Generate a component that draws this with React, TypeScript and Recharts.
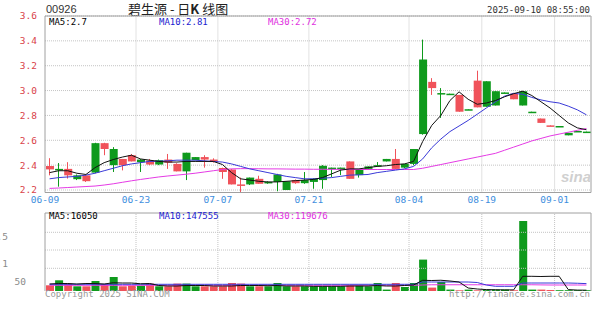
import React from 'react';
import { ComposedChart, Bar, Line, XAxis, YAxis, CartesianGrid, ReferenceLine, Cell } from 'recharts';

const opens = [2.366, 2.37, 2.318, 2.318, 2.271, 2.577, 2.53, 2.53, 2.40, 2.43, 2.445, 2.405, 2.44, 2.42, 2.35, 2.50, 2.465, 2.445, 2.425, 2.345, 2.245, 2.24, 2.30, 2.25, 2.265, 2.325, 2.27, 2.255, 2.28, 2.29, 2.395, 2.38, 2.38, 2.29, 2.365, 2.39, 2.40, 2.45, 2.37, 2.41, 2.53, 3.25, 3.02, 2.98, 2.975, 2.83, 2.85, 2.865, 3.075, 2.995, 2.985, 2.93, 2.995, 2.83, 2.74, 2.715, 2.715, 2.66, 2.675, 2.67];
const highs = [2.456, 2.417, 2.424, 2.325, 2.32, 2.58, 2.58, 2.545, 2.45, 2.49, 2.45, 2.45, 2.445, 2.49, 2.415, 2.50, 2.465, 2.48, 2.455, 2.38, 2.37, 2.30, 2.30, 2.315, 2.27, 2.33, 2.27, 2.285, 2.345, 2.295, 2.40, 2.38, 2.38, 2.43, 2.365, 2.39, 2.425, 2.45, 2.53, 2.41, 2.53, 3.41, 3.10, 3.02, 2.975, 2.965, 2.85, 3.16, 3.075, 2.995, 2.985, 2.975, 2.995, 2.83, 2.775, 2.72, 2.715, 2.66, 2.675, 2.67];
const lows = [2.318, 2.227, 2.292, 2.28, 2.265, 2.335, 2.48, 2.345, 2.358, 2.43, 2.345, 2.40, 2.40, 2.37, 2.35, 2.28, 2.44, 2.38, 2.42, 2.29, 2.245, 2.18, 2.24, 2.25, 2.25, 2.19, 2.20, 2.25, 2.25, 2.21, 2.21, 2.305, 2.32, 2.29, 2.30, 2.365, 2.395, 2.43, 2.37, 2.375, 2.40, 2.645, 2.965, 2.78, 2.97, 2.83, 2.845, 2.865, 2.87, 2.88, 2.98, 2.93, 2.88, 2.825, 2.74, 2.715, 2.71, 2.64, 2.67, 2.665];
const closes = [2.393, 2.366, 2.37, 2.287, 2.318, 2.34, 2.577, 2.40, 2.45, 2.48, 2.424, 2.437, 2.405, 2.445, 2.41, 2.35, 2.44, 2.465, 2.445, 2.377, 2.365, 2.245, 2.245, 2.29, 2.255, 2.265, 2.20, 2.28, 2.255, 2.265, 2.28, 2.377, 2.377, 2.43, 2.32, 2.37, 2.397, 2.43, 2.45, 2.38, 2.41, 2.65, 3.07, 2.975, 2.97, 2.965, 2.845, 3.08, 2.87, 2.88, 2.98, 2.975, 2.88, 2.825, 2.775, 2.72, 2.71, 2.64, 2.67, 2.665];

const ma5 = [2.34, 2.355, 2.355, 2.335, 2.325, 2.38, 2.42, 2.445, 2.465, 2.48, 2.45, 2.44, 2.43, 2.425, 2.425, 2.43, 2.43, 2.43, 2.43, 2.405, 2.34, 2.29, 2.28, 2.27, 2.265, 2.265, 2.27, 2.275, 2.28, 2.285, 2.30, 2.33, 2.36, 2.37, 2.37, 2.38, 2.39, 2.395, 2.405, 2.41, 2.43, 2.59, 2.72, 2.80, 2.92, 2.99, 2.93, 2.89, 2.90, 2.92, 2.95, 2.975, 2.995, 2.96, 2.91, 2.86, 2.80, 2.74, 2.70, 2.685];
const ma10 = [2.29, 2.30, 2.305, 2.31, 2.32, 2.335, 2.355, 2.375, 2.395, 2.41, 2.42, 2.43, 2.432, 2.435, 2.44, 2.44, 2.44, 2.435, 2.43, 2.425, 2.41, 2.39, 2.37, 2.355, 2.34, 2.325, 2.31, 2.30, 2.29, 2.29, 2.295, 2.30, 2.31, 2.32, 2.322, 2.325, 2.34, 2.35, 2.36, 2.37, 2.39, 2.45, 2.54, 2.61, 2.67, 2.715, 2.76, 2.81, 2.86, 2.91, 2.955, 2.978, 2.97, 2.945, 2.925, 2.91, 2.90, 2.875, 2.845, 2.805];
const ma30 = [2.213, 2.216, 2.22, 2.224, 2.228, 2.232, 2.24, 2.25, 2.262, 2.274, 2.285, 2.295, 2.305, 2.313, 2.32, 2.327, 2.335, 2.345, 2.355, 2.365, 2.37, 2.372, 2.372, 2.371, 2.37, 2.37, 2.369, 2.368, 2.368, 2.367, 2.367, 2.366, 2.366, 2.366, 2.365, 2.365, 2.365, 2.365, 2.365, 2.365, 2.365, 2.375, 2.39, 2.405, 2.42, 2.435, 2.45, 2.465, 2.48, 2.495, 2.52, 2.545, 2.57, 2.595, 2.615, 2.635, 2.65, 2.665, 2.68, 2.695];

const volumes = [114000, 214000, 148000, 94000, 94000, 200000, 134000, 280000, 94000, 108000, 108000, 148000, 94000, 94000, 148000, 148000, 94000, 94000, 94000, 94000, 160000, 148000, 94000, 94000, 94000, 160000, 94000, 94000, 94000, 94000, 94000, 94000, 94000, 114000, 114000, 94000, 160000, 28000, 160000, 80000, 160000, 628000, 68000, 180000, 28000, 14000, 28000, 14000, 28000, 28000, 28000, 14000, 1400000, 28000, 28000, 20000, 16000, 16000, 16000, 16000];
const volMa5 = [140000, 150000, 150000, 140000, 150000, 150000, 140000, 165000, 160000, 160000, 145000, 150000, 110000, 100000, 100000, 110000, 110000, 110000, 100000, 100000, 100000, 110000, 110000, 110000, 105000, 110000, 100000, 100000, 100000, 94000, 94000, 94000, 94000, 100000, 100000, 100000, 110000, 100000, 100000, 110000, 120000, 214000, 210000, 215000, 200000, 180000, 60000, 40000, 28000, 25000, 22000, 22000, 294000, 294000, 290000, 294000, 294000, 28000, 18000, 16050];
const volMa10 = [134000, 134000, 134000, 134000, 134000, 134000, 134000, 134000, 134000, 134000, 134000, 134000, 134000, 134000, 134000, 134000, 134000, 134000, 134000, 134000, 134000, 134000, 134000, 134000, 134000, 134000, 134000, 134000, 134000, 134000, 134000, 134000, 134000, 134000, 134000, 134000, 134000, 134000, 134000, 134000, 134000, 180000, 180000, 180000, 180000, 180000, 180000, 170000, 120000, 94000, 94000, 94000, 160000, 160000, 160000, 160000, 160000, 160000, 155000, 147555];
const volMa30 = [114000, 114000, 114000, 114000, 114000, 114000, 114000, 114000, 114000, 114000, 114000, 114000, 114000, 114000, 114000, 114000, 114000, 114000, 114000, 114000, 114000, 114000, 114000, 114000, 114000, 114000, 114000, 114000, 114000, 114000, 114000, 114000, 114000, 114000, 114000, 114000, 114000, 114000, 114000, 114000, 114000, 120000, 125000, 125000, 125000, 125000, 125000, 125000, 125000, 125000, 125000, 125000, 125000, 125000, 122000, 120000, 120000, 120000, 120000, 119676];

const tickIndex = [0, 10, 19, 29, 40, 48, 56];
const tickLabels = ['06-09', '06-23', '07-07', '07-21', '08-04', '08-19', '09-01'];
const priceTicks = [2.2, 2.4, 2.6, 2.8, 3.0, 3.2, 3.4, 3.6];
const volGrid = [454000, 820000, 1174000];
const volTicks = [186000, 554000, 1100000];
const volTickLabels = ['50', '1', '1.5'];
const volTickRight = [26, 8, 8];

const RED = '#f0525a';
const GREEN = '#0e9a1c';
const MONO = '"DejaVu Sans Mono", monospace';
const GRID = '#c4c4c4';
const BORDER = '#a0a0a0';

const rows = opens.map((o, i) => ({
  i,
  open: o,
  high: highs[i],
  low: lows[i],
  close: closes[i],
  ma5: ma5[i],
  ma10: ma10[i],
  ma30: ma30[i],
  vol: volumes[i],
  vma5: volMa5[i],
  vma10: volMa10[i],
  vma30: volMa30[i],
}));

const Candle = (props: any) => {
  const { x, payload } = props;
  let { y, height, width } = props;
  if (height < 0) {
    y += height;
    height = -height;
  }
  const { open, close, high, low } = payload;
  const color = close >= open ? RED : GREEN;
  const k = high > low ? height / (high - low) : 0;
  const yOf = (v: number) => y + (high - v) * k;
  const top = yOf(Math.max(open, close));
  const bot = yOf(Math.min(open, close));
  const cx = Math.round(x + width / 2) - 0.5;
  return (
    <g>
      <line x1={cx} x2={cx} y1={y} y2={y + height} stroke={color} strokeWidth={1} />
      <rect x={x} y={top} width={width} height={Math.max(bot - top, 1.5)} fill={color} />
    </g>
  );
};

const VolTick = (props: any) => {
  const { y, payload } = props;
  const n = volTicks.indexOf(payload.value);
  return (
    <text x={volTickRight[n]} y={y} dy={3.5} textAnchor="end" fill="#8a8a8a" fontSize={9.5} fontFamily={MONO}>
      {volTickLabels[n]}
    </text>
  );
};

const txt = (extra: React.CSSProperties): React.CSSProperties => ({
  position: 'absolute',
  fontFamily: MONO,
  fontSize: 9,
  lineHeight: '10px',
  whiteSpace: 'nowrap',
  ...extra,
});

export default function App() {
  return (
    <div style={{ position: 'absolute', left: 0, top: 0, width: 600, height: 327, background: '#fff', overflow: 'hidden' }}>
      <div style={txt({ left: 46, top: 4, fontSize: 11, fontFamily: 'Arial, "Liberation Sans", sans-serif', color: '#333' })}>00926</div>
      <div style={txt({ left: 128, top: 1, fontSize: 13, lineHeight: '15px', fontFamily: '"Noto Sans CJK SC", sans-serif', color: '#222', whiteSpace: 'pre' })}>碧生源 - 日<b>K</b> 线图</div>
      <div style={txt({ right: 10, top: 5, color: '#333' })}>2025-09-10 08:55:00</div>

      <div style={{ position: 'absolute', left: 0, top: 0 }}>
        <ComposedChart width={600} height={212} data={rows} margin={{ top: 16, right: 9, left: 0, bottom: 0 }} barSize={8} barGap={0} barCategoryGap={0}>
          <CartesianGrid stroke={GRID} strokeDasharray="1 1" vertical={false} />
          {tickIndex.map((t, n) => (
            <ReferenceLine key={t} x={t} position="start" stroke={n === 0 ? BORDER : GRID} strokeDasharray={n === 0 ? undefined : '1 1'}
              label={{ value: tickLabels[n], position: 'bottom', offset: 4, fill: '#3d8ede', fontSize: 9.5, fontFamily: MONO }} />
          ))}
          <ReferenceLine x={59} position="end" stroke={BORDER} />
          <ReferenceLine y={3.6} stroke={BORDER} />
          <XAxis dataKey="i" type="category" tick={false} tickLine={false} axisLine={{ stroke: BORDER }} height={19.5} />
          <YAxis domain={[2.2, 3.6]} ticks={priceTicks} interval={0} width={45} tickLine={false} axisLine={false}
            tickFormatter={(v: number) => v.toFixed(1)} tick={{ fill: '#d9424a', fontSize: 9.5, fontFamily: MONO }} tickMargin={2} />
          <Bar dataKey={(d: any) => [d.low, d.high]} shape={<Candle />} isAnimationActive={false} />
          <Line dataKey="ma30" stroke="#e53ae5" dot={false} strokeWidth={1} isAnimationActive={false} />
          <Line dataKey="ma10" stroke="#3a3ad8" dot={false} strokeWidth={1} isAnimationActive={false} />
          <Line dataKey="ma5" stroke="#111" dot={false} strokeWidth={1} isAnimationActive={false} />
        </ComposedChart>
      </div>
      <div style={txt({ left: 49, top: 17, color: '#000' })}>MA5:2.7</div>
      <div style={txt({ left: 159, top: 17, color: '#1c1cd0' })}>MA10:2.81</div>
      <div style={txt({ left: 268, top: 17, color: '#e02fe0' })}>MA30:2.72</div>
      <div style={txt({ left: 561, top: 172, fontSize: 15, fontFamily: 'Arial, sans-serif', fontWeight: 'bold', fontStyle: 'italic', color: '#d0d0d0' })}>sina</div>

      <div style={{ position: 'absolute', left: 0, top: 200 }}>
        <ComposedChart width={600} height={91} data={rows} margin={{ top: 13, right: 9, left: 0, bottom: 0 }} barSize={8} barGap={0} barCategoryGap={0}>
          {volGrid.map((g) => (
            <ReferenceLine key={g} y={g} stroke={GRID} strokeDasharray="1 1" />
          ))}
          {tickIndex.map((t, n) => (
            <ReferenceLine key={t} x={t} position="start" stroke={n === 0 ? BORDER : GRID} strokeDasharray={n === 0 ? undefined : '1 1'} />
          ))}
          <ReferenceLine x={59} position="end" stroke={BORDER} />
          <ReferenceLine y={1560000} stroke={BORDER} />
          <XAxis dataKey="i" type="category" hide />
          <YAxis domain={[0, 1560000]} ticks={volTicks} interval={0} width={45} tickLine={false} axisLine={false} tick={<VolTick />} />
          <Bar dataKey="vol" isAnimationActive={false}>
            {rows.map((r) => (
              <Cell key={r.i} fill={r.close >= r.open ? RED : GREEN} />
            ))}
          </Bar>
          <Line dataKey="vma30" stroke="#e53ae5" dot={false} strokeWidth={1} isAnimationActive={false} />
          <Line dataKey="vma10" stroke="#3a3ad8" dot={false} strokeWidth={1} isAnimationActive={false} />
          <Line dataKey="vma5" stroke="#111" dot={false} strokeWidth={1} isAnimationActive={false} />
        </ComposedChart>
      </div>
      <div style={txt({ left: 49, top: 211, color: '#000' })}>MA5:16050</div>
      <div style={txt({ left: 159, top: 211, color: '#1c1cd0' })}>MA10:147555</div>
      <div style={txt({ left: 268, top: 211, color: '#e02fe0' })}>MA30:119676</div>
      <div style={txt({ left: 45, top: 289, color: '#999' })}>Copyright 2025 SINA.COM</div>
      <div style={txt({ right: 10, top: 289, color: '#999' })}>http://finance.sina.com.cn</div>
    </div>
  );
}
